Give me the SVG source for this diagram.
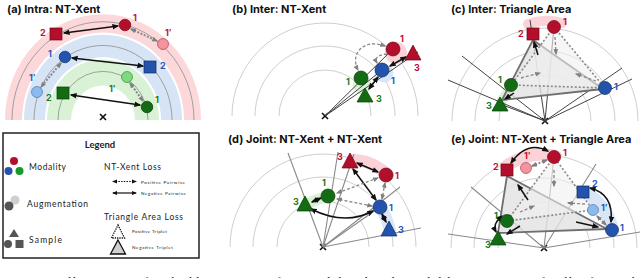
<svg xmlns="http://www.w3.org/2000/svg" width="640" height="278" viewBox="0 0 640 278">
<style>
.title{font-family:Inter,"Noto Sans",sans-serif;font-weight:700;font-size:11px;fill:#111}
.lbl{font-family:Inter,"Noto Sans",sans-serif;font-weight:700;font-size:9px}
.r{fill:#c0112f}.b{fill:#2757b8}.g{fill:#1b7a1b}
.lg{font-family:Lato,"Noto Sans",sans-serif;fill:#222}
.arc{fill:none;stroke:#cfcfcf;stroke-width:1}
.ray{stroke:#444;stroke-width:1}
.ray2{stroke:#8a8a8a;stroke-width:1.1}
.blk{fill:none;stroke:#111;stroke-width:1.5;marker-start:url(#mb);marker-end:url(#mb)}
.blk1{fill:none;stroke:#111;stroke-width:1.5;marker-end:url(#mb)}
.gdot{fill:none;stroke:#888;stroke-width:2;stroke-dasharray:2 1.5;marker-start:url(#mg);marker-end:url(#mg)}
.gdash1{fill:none;stroke:#888;stroke-width:1.3;stroke-dasharray:3 2;marker-end:url(#mg)}
.gdash2{fill:none;stroke:#888;stroke-width:1.3;stroke-dasharray:3 2;marker-start:url(#mg);marker-end:url(#mg)}
.tri{fill:#e2e2e2;fill-opacity:.8;stroke:#6f6f6f;stroke-width:1.8;stroke-linejoin:round}
.ptri{fill:#f0f0f0;fill-opacity:.6;stroke:#888;stroke-width:1.6;stroke-dasharray:2 2}
.R{fill:#b30f2c;stroke:#6e0717;stroke-width:.7}
.Rl{fill:#f5939f;stroke:#9a3040;stroke-width:.6}
.B{fill:#2353ad;stroke:#0f2d66;stroke-width:.7}
.Bl{fill:#8dbaee;stroke:#3b67a8;stroke-width:.6}
.G{fill:#136c13;stroke:#063b06;stroke-width:.7}
.Gl{fill:#7ddb7d;stroke:#2c7a2c;stroke-width:.6}
.cross{stroke:#111;stroke-width:1.6}
</style>
<defs>
<marker id="mb" viewBox="0 0 10 10" refX="8" refY="5" markerUnits="userSpaceOnUse" markerWidth="7" markerHeight="7" orient="auto-start-reverse"><path d="M0,1 L10,5 L0,9 z" fill="#111"/></marker>
<marker id="mg" viewBox="0 0 10 10" refX="8" refY="5" markerUnits="userSpaceOnUse" markerWidth="6" markerHeight="6" orient="auto-start-reverse"><path d="M0,1 L10,5 L0,9 z" fill="#808080"/></marker>
<marker id="ms" viewBox="0 0 10 10" refX="8" refY="5" markerUnits="userSpaceOnUse" markerWidth="5" markerHeight="5" orient="auto-start-reverse"><path d="M0,1 L10,5 L0,9 z" fill="#111"/></marker>
</defs>
<rect width="640" height="278" fill="#fff"/>

<!-- ===== Panel (a) ===== -->
<g id="panel-a">
<text class="title" x="7" y="13">(a) Intra: NT-Xent</text>
<g transform="translate(103,120) scale(1,1.08)">
<path d="M-98,0 A98,98 0 0 1 98,0 L81,0 A81,81 0 0 0 -81,0 Z" fill="#fcd8da"/>
<path d="M-79,0 A79,79 0 0 1 79,0 L58,0 A58,58 0 0 0 -58,0 Z" fill="#d6e4f6"/>
<path d="M-56,0 A56,56 0 0 1 56,0 L32,0 A32,32 0 0 0 -32,0 Z" fill="#d9f2d5"/>
<path d="M-91,0 A91,91 0 0 1 91,0" fill="none" stroke="#9a9a9a" stroke-width="0.9"/>
<path d="M-69,0 A69,69 0 0 1 69,0" fill="none" stroke="#9a9a9a" stroke-width="0.9"/>
<path d="M-45,0 A45,45 0 0 1 45,0" fill="none" stroke="#9a9a9a" stroke-width="0.9"/>
</g>
<g class="cross"><line x1="100" y1="114" x2="106" y2="120"/><line x1="106" y1="114" x2="100" y2="120"/></g>
</g>

<!-- ===== Panel (b) ===== -->
<g id="panel-b">
<text class="title" x="232" y="13">(b) Inter: NT-Xent</text>
<path class="arc" d="M279,116 A46,46 0 0 1 371,116 M255,116 A70,70 0 0 1 395,116 M232,116 A93,93 0 0 1 418,116"/>
<circle cx="396" cy="53" r="11" fill="#fbd2d8"/>
<circle cx="384" cy="73" r="9.5" fill="#d9e6f8"/>
<circle cx="362" cy="85" r="9.5" fill="#d9f2d5"/>
<g class="cross"><line x1="322" y1="113" x2="328" y2="119"/><line x1="328" y1="113" x2="322" y2="119"/></g>
</g>

<!-- ===== Panel (c) ===== -->
<g id="panel-c">
<text class="title" x="451" y="13">(c) Inter: Triangle Area</text>
<path class="arc" d="M499,121 A46,46 0 0 1 591,121 M475,121 A70,70 0 0 1 615,121 M452,121 A93,93 0 0 1 638,121"/>
<path d="M528,24 Q545,18 562,23" fill="none" stroke="#fbd2d8" stroke-width="10" stroke-linecap="round"/>
<path d="M510,88 L501,102" fill="none" stroke="#d9f2d5" stroke-width="10" stroke-linecap="round"/>
<g class="cross"><line x1="542" y1="118" x2="548" y2="124"/><line x1="548" y1="118" x2="542" y2="124"/></g>
</g>

<!-- ===== Panel (d) ===== -->
<g id="panel-d">
<text class="title" x="228" y="143">(d) Joint: NT-Xent + NT-Xent</text>
<path class="arc" d="M277,247 A46,46 0 0 1 369,247 M253,247 A70,70 0 0 1 393,247 M230,247 A93,93 0 0 1 416,247"/>
<path d="M352,160 Q372,160 388,175" fill="none" stroke="#fbd2d8" stroke-width="12" stroke-linecap="round"/>
<path d="M305,205 Q318,198 329,197" fill="none" stroke="#d9f2d5" stroke-width="11" stroke-linecap="round"/>
<path d="M381,208 Q387,218 390,230" fill="none" stroke="#d9e6f8" stroke-width="12" stroke-linecap="round"/>
<g class="cross"><line x1="320" y1="244" x2="326" y2="250"/><line x1="326" y1="244" x2="320" y2="250"/></g>
</g>

<!-- ===== Panel (e) ===== -->
<g id="panel-e">
<text class="title" x="451" y="143">(e) Joint: NT-Xent + Triangle Area</text>
<path class="arc" d="M498,248 A46,46 0 0 1 590,248 M474,248 A70,70 0 0 1 614,248 M451,248 A93,93 0 0 1 637,248"/>
<path d="M506,166 Q530,150 556,156" fill="none" stroke="#fbd2d8" stroke-width="12" stroke-linecap="round"/>
<path d="M586,193 Q606,205 612,228" fill="none" stroke="#d9e6f8" stroke-width="13" stroke-linecap="round"/>
<g class="cross"><line x1="541" y1="245" x2="547" y2="251"/><line x1="547" y1="245" x2="541" y2="251"/></g>
</g>

<!-- ===== Connectors ===== -->
<g id="connectors">
<!-- a -->
<line class="blk" x1="64" y1="33" x2="118" y2="26"/>
<line class="blk" x1="72" y1="58" x2="143" y2="66"/>
<line class="blk" x1="71" y1="95" x2="140" y2="105"/>
<line class="gdot" x1="131" y1="29" x2="157" y2="41"/>
<line class="gdot" x1="61" y1="63" x2="41" y2="87"/>
<line class="gdot" x1="130" y1="83" x2="143" y2="101"/>
<!-- b -->
<line class="ray" x1="325" y1="116" x2="393" y2="49"/>
<line class="ray" x1="325" y1="116" x2="382" y2="70"/>
<line class="ray" x1="325" y1="116" x2="418" y2="52"/>
<line class="blk" x1="406" y1="57" x2="390" y2="66"/>
<line class="blk" x1="378" y1="77" x2="369" y2="89"/>
<path class="gdash2" d="M385,46 C362,38 350,55 358,70"/>
<path class="gdash1" d="M387,54 C378,55 374,58 377,63"/>
<!-- c -->
<line class="ray" x1="545" y1="121" x2="448" y2="80"/>
<line class="ray" x1="545" y1="121" x2="462" y2="56"/>
<line class="ray" x1="545" y1="121" x2="530" y2="20"/>
<line class="ray" x1="545" y1="121" x2="554" y2="27"/>
<line class="ray" x1="545" y1="121" x2="622" y2="68"/>
<line class="ray" x1="545" y1="121" x2="632" y2="79"/>
<line class="ray" x1="545" y1="121" x2="500" y2="104"/>
<path class="tri" d="M533,40 L502,100 L603,89 Z"/>
<path class="ptri" d="M554,27 L511,85 L605,88 Z"/>
<line class="gdash1" x1="555" y1="37" x2="556" y2="54"/>
<line class="gdash1" x1="521" y1="78" x2="540" y2="73"/>
<line class="gdash1" x1="596" y1="81" x2="576" y2="74"/>
<line class="blk1" x1="538" y1="55" x2="534" y2="42"/>
<line class="blk1" x1="514" y1="93" x2="505" y2="99"/>
<!-- d -->
<line class="ray2" x1="323" y1="247" x2="288" y2="153"/>
<line class="ray2" x1="323" y1="247" x2="338" y2="152"/>
<line class="ray2" x1="323" y1="247" x2="354" y2="154"/>
<line class="ray2" x1="323" y1="247" x2="400" y2="187"/>
<line class="ray2" x1="323" y1="247" x2="421" y2="228"/>
<line class="ray2" x1="323" y1="247" x2="380" y2="207"/>
<line class="blk" x1="357" y1="163" x2="378" y2="172"/>
<line class="blk" x1="353" y1="169" x2="376" y2="200"/>
<line class="blk" x1="321" y1="198" x2="312" y2="202"/>
<path class="blk" d="M311,209 Q345,226 373,211"/>
<line class="blk" x1="382" y1="214" x2="386" y2="222"/>
<line class="gdash2" x1="378" y1="178" x2="337" y2="193"/>
<line class="gdash2" x1="372" y1="206" x2="337" y2="199"/>
<line class="gdash2" x1="385" y1="183" x2="382" y2="199"/>
<!-- e -->
<line class="ray2" x1="544" y1="248" x2="471" y2="187"/>
<line class="ray2" x1="544" y1="248" x2="448" y2="234"/>
<line class="ray2" x1="544" y1="248" x2="596" y2="164"/>
<line class="ray2" x1="544" y1="248" x2="640" y2="232"/>
<line class="ray2" x1="544" y1="248" x2="554" y2="157"/>
<path class="tri" d="M507,176 L498,233 L607,229 Z"/>
<path class="ptri" d="M554,157 L507,221 L593,210 Z"/>
<line class="gdash1" x1="554" y1="170" x2="554" y2="186"/>
<line class="gdash1" x1="520" y1="212" x2="534" y2="206"/>
<line class="gdash1" x1="585" y1="204" x2="568" y2="203"/>
<line class="blk1" x1="528" y1="200" x2="518" y2="185"/>
<line class="blk1" x1="520" y1="226" x2="507" y2="234"/>
<line class="blk1" x1="576" y1="222" x2="598" y2="227"/>
<path class="blk" d="M548,151 Q527,140 511,163"/>
<path class="blk" d="M590,188 Q614,194 611,222"/>
<path class="blk" d="M502,216 Q492,224 496,232"/>
<line class="gdot" x1="532" y1="166" x2="547" y2="160"/>
<line class="gdot" x1="597" y1="216" x2="606" y2="225"/>
</g>

<!-- nodes a -->
<g id="a-red-1"><circle class="R" cx="125" cy="25" r="5.8"/><text class="lbl r" x="133" y="21">1</text></g>
<g id="a-red-1p"><circle class="Rl" cx="163" cy="44" r="5.5"/><text class="lbl r" x="165" y="36">1′</text></g>
<g id="a-red-2"><rect class="R" x="50" y="28" width="12" height="12"/><text class="lbl r" x="40" y="36">2</text></g>
<g id="a-blue-1"><circle class="B" cx="65" cy="57" r="5.8"/><text class="lbl b" x="48" y="57">1</text></g>
<g id="a-blue-2"><rect class="B" x="144" y="61" width="12" height="12"/><text class="lbl b" x="160" y="69">2</text></g>
<g id="a-blue-1p"><circle class="Bl" cx="37" cy="92" r="5.5"/><text class="lbl b" x="29" y="81">1′</text></g>
<g id="a-green-1p"><circle class="Gl" cx="127" cy="77" r="5.5"/><text class="lbl g" x="109" y="92">1′</text></g>
<g id="a-green-1"><circle class="G" cx="147" cy="107" r="5.8"/><text class="lbl g" x="155" y="103">1</text></g>
<g id="a-green-2"><rect class="G" x="57" y="87" width="12" height="12"/><text class="lbl g" x="46" y="101">2</text></g>

<!-- nodes b -->
<g id="b-red-1"><circle class="R" cx="393" cy="49" r="7"/><text class="lbl r" x="400" y="42">1</text></g>
<g id="b-red-3"><path class="R" d="M413,45 L421,60 L405,60 Z"/><text class="lbl r" x="414" y="71">3</text></g>
<g id="b-blue-1"><circle class="B" cx="382" cy="70" r="7"/><text class="lbl b" x="391" y="84">1</text></g>
<g id="b-green-1"><circle class="G" cx="361" cy="78" r="7"/><text class="lbl g" x="346" y="85">1</text></g>
<g id="b-green-3"><path class="G" d="M365,88 L373,102 L357,102 Z"/><text class="lbl g" x="376" y="102">3</text></g>

<!-- nodes c -->
<g id="c-red-1"><circle class="R" cx="554" cy="27" r="6.5"/><text class="lbl r" x="563" y="25">1</text></g>
<g id="c-red-2"><rect class="R" x="527" y="28" width="12" height="12"/><text class="lbl r" x="518" y="37">2</text></g>
<g id="c-green-1"><circle class="G" cx="511" cy="85" r="6.5"/><text class="lbl g" x="498" y="83">1</text></g>
<g id="c-green-3"><path class="G" d="M500,97 L508,111 L492,111 Z"/><text class="lbl g" x="486" y="109">3</text></g>
<g id="c-blue-1"><circle class="B" cx="605" cy="88" r="6.5"/><text class="lbl b" x="614" y="90">1</text></g>

<!-- nodes d -->
<g id="d-red-3"><path class="R" d="M350,153 L358,168 L342,168 Z"/><text class="lbl r" x="337" y="160">3</text></g>
<g id="d-red-1"><circle class="R" cx="386" cy="175" r="7"/><text class="lbl r" x="395" y="179">1</text></g>
<g id="d-green-1"><circle class="G" cx="328" cy="196" r="7"/><text class="lbl g" x="322" y="186">1</text></g>
<g id="d-green-3"><path class="G" d="M305,196 L313,211 L297,211 Z"/><text class="lbl g" x="293" y="205">3</text></g>
<g id="d-blue-1"><circle class="B" cx="380" cy="207" r="7"/><text class="lbl b" x="389" y="211">1</text></g>
<g id="d-blue-3"><path class="B" d="M389,221 L397,236 L381,236 Z"/><text class="lbl b" x="398" y="233">3</text></g>

<!-- nodes e -->
<g id="e-red-1"><circle class="R" cx="554" cy="157" r="6.5"/><text class="lbl r" x="563" y="156">1</text></g>
<g id="e-red-1p"><circle class="Rl" cx="526" cy="168" r="5.5"/><text class="lbl r" x="524" y="159">1′</text></g>
<g id="e-red-2"><rect class="R" x="501" y="164" width="12" height="12"/><text class="lbl r" x="493" y="170">2</text></g>
<g id="e-blue-2"><rect class="B" x="577" y="186" width="12" height="12"/><text class="lbl b" x="592" y="187">2</text></g>
<g id="e-blue-1p"><circle class="Bl" cx="593" cy="210" r="5.5"/><text class="lbl b" x="601" y="211">1′</text></g>
<g id="e-blue-1"><circle class="B" cx="612" cy="230" r="6.5"/><text class="lbl b" x="620" y="231">1</text></g>
<g id="e-green-1"><circle class="G" cx="507" cy="221" r="6.5"/><text class="lbl g" x="494" y="219">1</text></g>
<g id="e-green-3"><path class="G" d="M498,231 L506,245 L490,245 Z"/><text class="lbl g" x="485" y="248">3</text></g>

<!-- ===== Legend ===== -->
<g id="legend">
<rect x="3" y="133" width="196" height="125" fill="#fff" stroke="#222" stroke-width="1.5"/>
<text class="lg" x="100" y="148" text-anchor="middle" font-weight="700" font-size="9.5">Legend</text>
<circle cx="14" cy="161" r="4" fill="#b30f2c"/>
<circle cx="8.5" cy="171" r="4" fill="#2353ad"/>
<circle cx="19.5" cy="171" r="4" fill="#159a2a"/>
<text class="lg" x="29" y="170" font-size="8.5" textLength="37">Modality</text>
<circle cx="15" cy="200" r="4.5" fill="#cfcfcf"/>
<circle cx="9" cy="206" r="4.5" fill="#555"/>
<text class="lg" x="27" y="207" font-size="8.5" textLength="61">Augmentation</text>
<path d="M14,229 L19,237 L9,237 Z" fill="#555"/>
<circle cx="8" cy="244" r="4" fill="#555"/>
<rect x="15.5" y="240" width="8" height="8" fill="#555"/>
<text class="lg" x="29" y="243" font-size="8.5" textLength="33">Sample</text>
<text class="lg" x="104" y="170" font-size="8.5" textLength="57">NT-Xent  Loss</text>
<line x1="113" y1="181.5" x2="136" y2="181.5" stroke="#111" stroke-width="1.2" stroke-dasharray="1.5 1.2" marker-start="url(#ms)" marker-end="url(#ms)"/>
<text class="lg" x="141" y="184" font-size="4.6" textLength="44">Positive Pairwise</text>
<line x1="113" y1="193" x2="136" y2="193" stroke="#111" stroke-width="1.2" marker-start="url(#ms)" marker-end="url(#ms)"/>
<text class="lg" x="141" y="195" font-size="4.6" textLength="45">Negative Pairwise</text>
<text class="lg" x="104" y="220" font-size="8.5" textLength="79">Triangle Area Loss</text>
<path d="M118,225 L124.5,238 L111.5,238 Z" fill="none" stroke="#111" stroke-width="1.3" stroke-dasharray="1.3 1"/>
<text class="lg" x="132" y="233" font-size="4.6" textLength="35">Positive Triplet</text>
<path d="M118,240 L125.5,254 L110.5,254 Z" fill="#cfcfcf" stroke="#111" stroke-width="1.3"/>
<text class="lg" x="132" y="249" font-size="4.6" textLength="41">Negative Triplet</text>
</g>

<text x="2" y="286" font-family="'Liberation Serif',serif" font-size="12.5" fill="#111" textLength="636">Figure 1: Illustration of embedding spaces of unimodal and multimodal learning. Specifically, for each</text>
</svg>
